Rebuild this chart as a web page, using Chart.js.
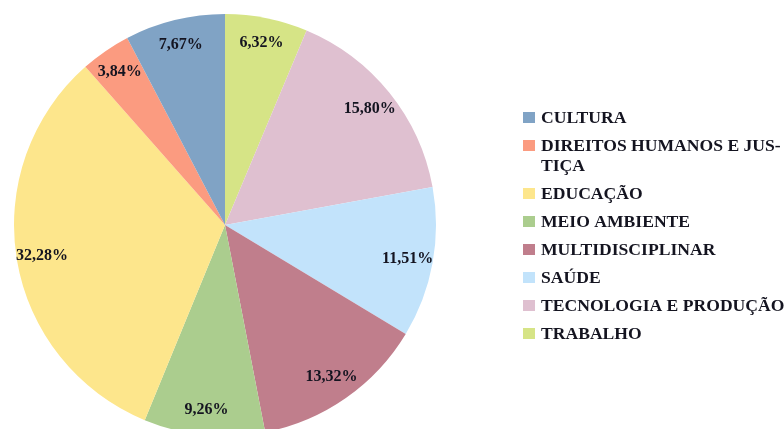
<!DOCTYPE html>
<html>
<head>
<meta charset="utf-8">
<script src="https://cdn.jsdelivr.net/npm/chart.js@4.4.1/dist/chart.umd.min.js"></script>
<style>
  html, body { margin: 0; padding: 0; background: #fff; overflow: hidden; }
  #wrap { width: 784px; height: 450px; position: relative; }
</style>
</head>
<body>
<div id="wrap"><canvas id="chart1"></canvas></div>
<script>
// legend order (the pie is drawn counter-clockwise from 12 o'clock in this order)
const categories = ['CULTURA', ['DIREITOS HUMANOS E JUS-', 'TIÇA'], 'EDUCAÇÃO', 'MEIO AMBIENTE',
  'MULTIDISCIPLINAR', 'SAÚDE', 'TECNOLOGIA E PRODUÇÃO', 'TRABALHO'];
const shares = [7.67, 3.84, 32.28, 9.26, 13.32, 11.51, 15.80, 6.32];
const colors = ['#80a3c5', '#fb9b80', '#fde68c', '#abcd8e', '#c07e8c', '#c2e3fb', '#dfc0d0', '#d6e486'];

const fmt = v => v.toFixed(2).replace('.', ',') + '%';

// chart.js only goes clockwise, so feed the slices reversed
const pieData = shares.slice().reverse();
const pieColors = colors.slice().reverse();
const pieLabels = categories.slice().reverse();

const sliceLabels = {
  id: 'sliceLabels',
  afterDatasetsDraw(chart) {
    const ctx = chart.ctx;
    const meta = chart.getDatasetMeta(0);
    ctx.save();
    ctx.font = 'bold 16px "Liberation Serif", "Times New Roman", serif';
    ctx.fillStyle = '#141420';
    ctx.textAlign = 'center';
    ctx.textBaseline = 'middle';
    meta.data.forEach((arc, i) => {
      const p = arc.getProps(['x', 'y', 'startAngle', 'endAngle', 'outerRadius'], true);
      const mid = (p.startAngle + p.endAngle) / 2;
      const r = p.outerRadius * 0.88;
      ctx.fillText(fmt(pieData[i]), p.x + Math.cos(mid) * r, p.y + Math.sin(mid) * r);
    });
    ctx.restore();
  }
};

const sideLegend = {
  id: 'sideLegend',
  afterDraw(chart) {
    const ctx = chart.ctx;
    ctx.save();
    ctx.font = 'bold 17.6px "Liberation Serif", "Times New Roman", serif';
    ctx.textBaseline = 'middle';
    let y = 118;
    categories.forEach((cat, i) => {
      const lines = Array.isArray(cat) ? cat : [cat];
      ctx.fillStyle = colors[i];
      ctx.fillRect(523, y - 6, 12, 11);
      ctx.fillStyle = '#141420';
      lines.forEach((ln, j) => ctx.fillText(ln, 541, y + j * 20));
      y += 28 + (lines.length - 1) * 20;
    });
    ctx.restore();
  }
};

new Chart(document.getElementById('chart1'), {
  type: 'pie',
  data: {
    labels: pieLabels,
    datasets: [{
      data: pieData,
      backgroundColor: pieColors,
      borderWidth: 0
    }]
  },
  options: {
    responsive: true,
    maintainAspectRatio: false,
    animation: false,
    layout: { padding: { left: 14, top: 14, right: 348, bottom: 14 } },
    plugins: {
      legend: { display: false },
      tooltip: { enabled: false }
    }
  },
  plugins: [sliceLabels, sideLegend]
});
</script>
</body>
</html>
